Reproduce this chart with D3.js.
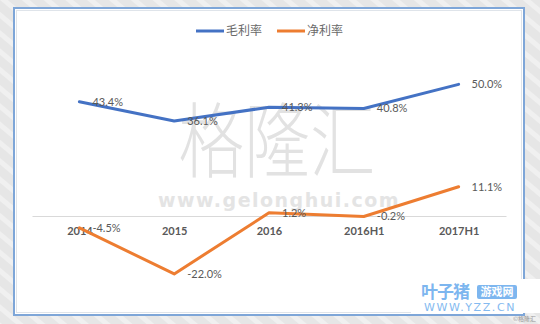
<!DOCTYPE html>
<html>
<head>
<meta charset="utf-8">
<script src="https://cdn.jsdelivr.net/npm/d3@7"></script>
<style>
  html, body { margin: 0; padding: 0; background: #e6e6e6; }
  svg { display: block; }
</style>
</head>
<body>
<svg id="chart" width="540" height="324"></svg>
<script>
// Margins of the two ratios by reporting period (%)
const categories = ["2014", "2015", "2016", "2016H1", "2017H1"];
const grossMargin = [43.4, 36.1, 41.3, 40.8, 50.0];
const netMargin = [-4.5, -22.0, 1.2, -0.2, 11.1];
const seriesNames = ["毛利率", "净利率"];
const seriesColors = ["#4472C4", "#ED7D31"];

const series = [
  { name: seriesNames[0], color: seriesColors[0], values: grossMargin },
  { name: seriesNames[1], color: seriesColors[1], values: netMargin }
];

const W = 540, H = 324;
const svg = d3.select("#chart");

// Page backdrop with faint diagonal stripes
const defs = svg.append("defs");
const pat = defs.append("pattern")
  .attr("id", "stripes").attr("patternUnits", "userSpaceOnUse")
  .attr("width", 14).attr("height", 14)
  .attr("patternTransform", "rotate(-50)");
pat.append("rect").attr("width", 14).attr("height", 14).attr("fill", "#e6e6e6");
pat.append("rect").attr("width", 5).attr("height", 14).attr("fill", "#f0f0f0");
svg.append("rect").attr("width", W).attr("height", H).attr("fill", "url(#stripes)");

// Chart panel
svg.append("rect")
  .attr("x", 14).attr("y", 8).attr("width", 510).attr("height", 307)
  .attr("fill", "#ffffff").attr("stroke", "#7ea6d8").attr("stroke-width", 2);
svg.append("rect")
  .attr("x", 16.5).attr("y", 10.5).attr("width", 505).attr("height", 302)
  .attr("fill", "none").attr("stroke", "#dfe4ea").attr("stroke-width", 1);

// Watermark
svg.append("text")
  .attr("transform", "translate(277,171) scale(0.8,1)")
  .attr("text-anchor", "middle")
  .attr("font-family", "'Noto Sans CJK SC'")
  .attr("font-weight", 300)
  .attr("font-size", 82)
  .attr("fill", "#e2e2e2")
  .text("格隆汇");
svg.append("text")
  .attr("x", 279).attr("y", 207)
  .attr("text-anchor", "middle")
  .attr("font-family", "'DejaVu Sans'")
  .attr("font-weight", 700)
  .attr("font-size", 19)
  .attr("fill", "#e4e4e4")
  .attr("letter-spacing", 1.5)
  .text("www.gelonghui.com");

// Scales
const x = d3.scalePoint().domain(categories).range([32, 506]).padding(0.5);
const y = d3.scaleLinear().domain([-30, 60]).range([295, 58]);

// Category axis along zero
const xAxis = svg.append("g")
  .attr("transform", `translate(0,${y(0)})`)
  .call(d3.axisBottom(x).tickSize(0).tickPadding(11));
xAxis.select(".domain").attr("stroke", "#d9d9d9").attr("stroke-width", 1);
xAxis.selectAll("text")
  .attr("font-family", "Lato, 'DejaVu Sans', sans-serif")
  .attr("font-size", 11)
  .attr("font-weight", 700)
  .attr("fill", "#595959");

// Lines
const line = d3.line()
  .x((d, i) => x(categories[i]))
  .y(d => y(d));

series.forEach(s => {
  svg.append("path")
    .datum(s.values)
    .attr("fill", "none")
    .attr("stroke", s.color)
    .attr("stroke-width", 3)
    .attr("stroke-linejoin", "round")
    .attr("stroke-linecap", "round")
    .attr("d", line);
});

// Data labels to the right of each point
series.forEach(s => {
  svg.append("g").selectAll("text")
    .data(s.values)
    .join("text")
    .attr("x", (d, i) => x(categories[i]) + 13)
    .attr("y", d => y(d))
    .attr("dy", "0.35em")
    .attr("font-family", "Lato, 'DejaVu Sans', sans-serif")
    .attr("font-size", 11)
    .attr("fill", "#595959")
    .text(d => d.toFixed(1) + "%");
});

// Legend
const legend = svg.append("g").attr("transform", "translate(196,31)");
const legendX = [0, 81];
series.forEach((s, i) => {
  const g = legend.append("g").attr("transform", `translate(${legendX[i]},0)`);
  g.append("line").attr("x1", 0).attr("x2", 28).attr("y1", 0).attr("y2", 0)
    .attr("stroke", s.color).attr("stroke-width", 3);
  g.append("text").attr("x", 30).attr("y", 0).attr("dy", "0.36em")
    .attr("font-family", "'Noto Sans CJK SC'")
    .attr("font-size", 12)
    .attr("fill", "#6a6a6a")
    .text(s.name);
});

// Site badge in the lower right corner
const badge = svg.append("g");
badge.append("rect").attr("x", 411).attr("y", 279).attr("width", 129).attr("height", 34).attr("fill", "#ffffff");
badge.append("text").attr("x", 421).attr("y", 298)
  .attr("font-family", "'Noto Sans CJK SC'").attr("font-weight", 700)
  .attr("font-size", 17).attr("fill", "#7db6ef").attr("letter-spacing", -1)
  .text("叶子猪");
badge.append("rect").attr("x", 477).attr("y", 285).attr("width", 40).attr("height", 14).attr("rx", 2)
  .attr("fill", "#7db6ef");
badge.append("text").attr("x", 497).attr("y", 296).attr("text-anchor", "middle")
  .attr("font-family", "'Noto Sans CJK SC'").attr("font-weight", 700)
  .attr("font-size", 11).attr("fill", "#ffffff")
  .text("游戏网");
badge.append("text").attr("x", 470).attr("y", 311).attr("text-anchor", "middle")
  .attr("font-family", "'DejaVu Sans'").attr("font-size", 11)
  .attr("fill", "#84baf0").attr("letter-spacing", 1.6)
  .text("WWW.YZZ.CN");
svg.append("text").attr("x", 536).attr("y", 321).attr("text-anchor", "end")
  .attr("font-family", "'Noto Sans CJK SC'").attr("font-size", 6)
  .attr("fill", "#9a9a9a")
  .text("©格隆汇");
</script>
</body>
</html>
